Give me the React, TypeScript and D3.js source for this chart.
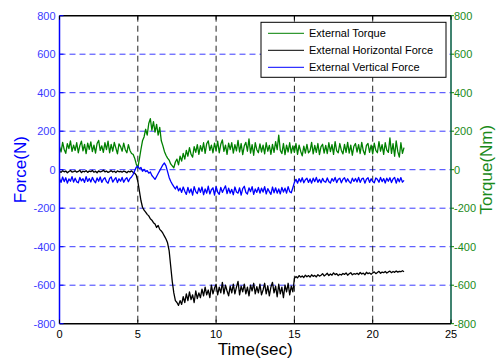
import React from 'react';
import * as d3 from 'd3';

// time step of the sampled signals (sec)
const dt = 0.1;

const torque = [
  120, 92, 142, 105, 85, 135, 110, 150, 95, 128,
  100, 140, 88, 125, 148, 98, 132, 84, 138, 106,
  145, 94, 128, 86, 136, 152, 100, 124, 90, 140,
  104, 148, 88, 132, 96, 142, 112, 82, 134, 120,
  96, 138, 104, 88, 130, 100, 84, 80, 60, 30,
  10, 55, 105, 150, 170, 210, 180, 240, 265, 205,
  250, 195, 235, 180, 220, 150, 125, 95, 75, 60,
  50, 30, 20, 10, 40, 55, 25, 70, 45, 85,
  55, 100, 70, 115, 80, 65, 120, 90, 130, 80,
  125, 95, 140, 85, 135, 150, 100, 128, 88, 138,
  100, 148, 88, 132, 155, 95, 128, 80, 138, 104,
  140, 86, 130, 98, 152, 92, 136, 78, 124, 142,
  96, 160, 86, 130, 75, 140, 104, 88, 134, 92,
  128, 82, 140, 96, 126, 80, 132, 90, 146, 104,
  180, 100, 84, 136, 78, 128, 92, 140, 86, 124,
  90, 136, 80, 128, 96, 72, 122, 86, 132, 88,
  98, 142, 82, 126, 90, 136, 78, 120, 132, 86,
  126, 84, 140, 94, 130, 80, 146, 98, 88, 136,
  100, 82, 132, 90, 142, 86, 128, 75, 122, 136,
  92, 130, 84, 142, 98, 78, 126, 136, 90, 128,
  82, 138, 100, 88, 146, 96, 130, 80, 140, 102,
  90, 165, 85, 135, 70, 150, 95, 65, 140, 85,
  115,
];

const horizontalForce = [
  -8, -14, -5, -11, -7, -16, -9, -4, -12, -10,
  -6, -13, -9, -3, -15, -8, -11, -5, -14, -7,
  -10, -4, -13, -8, -16, -6, -12, -9, -3, -11,
  -7, -14, -10, -5, -12, -8, -15, -6, -11, -9,
  -13, -7, -10, -16, -8, -12, -6, -14, -18, -28,
  -60, -110, -160, -195, -210, -220, -232, -240, -255, -262,
  -275, -282, -300, -290, -310, -318, -330, -345, -360, -380,
  -420, -500, -580, -640, -680, -690, -705, -680, -700, -660,
  -690, -645, -680, -635, -675, -650, -690, -630, -670, -640,
  -665, -620, -655, -610, -650, -625, -665, -600, -645, -615,
  -595, -650, -610, -640, -585, -645, -600, -630, -655, -605,
  -640, -595, -645, -610, -580, -650, -605, -635, -595, -645,
  -610, -655, -600, -630, -590, -645, -608, -640, -595, -650,
  -625, -590, -645, -603, -655, -610, -585, -640, -605, -660,
  -595, -645, -610, -665, -600, -635, -590, -650, -605, -635,
  -565, -555, -562, -550, -558, -552, -560, -548, -556, -550,
  -558, -546, -554, -549, -557, -545, -553, -548, -540, -552,
  -546, -538, -550, -542, -548, -536, -545, -540, -550, -543,
  -547, -539, -544, -536, -548, -541, -535, -546, -540, -543,
  -538, -545, -534, -542, -537, -546, -533, -540, -536, -543,
  -536, -531, -540, -534, -528, -538, -532, -535, -529, -537,
  -531, -527, -535, -529, -533, -526, -532, -528, -530, -525,
  -530,
];

const verticalForce = [
  -45, -66, -38, -62, -42, -70, -48, -60, -36, -64,
  -44, -63, -68, -40, -58, -47, -66, -36, -61, -46,
  -64, -40, -57, -68, -43, -60, -38, -66, -50, -42,
  -62, -70, -46, -37, -64, -52, -41, -67, -47, -60,
  -40, -65, -50, -42, -62, -46, -38, -25, -5, 12,
  18, 5, 12, -8, 2, -10, -5, -18, -12, -30,
  -40, -50, -35, -20, -5, 10, 25, 35, 20, -10,
  -40, -60, -75, -88, -100, -85, -110, -96, -118, -90,
  -112, -128, -92, -120, -100, -132, -88, -114, -124, -94,
  -118, -90, -130, -100, -122, -86, -126, -104, -94, -132,
  -88, -116, -128, -92, -118, -100, -84, -124, -96, -122,
  -102, -130, -90, -116, -122, -94, -132, -98, -86, -118,
  -126, -94, -114, -88, -128, -100, -118, -92, -122, -96,
  -116, -88, -126, -98, -114, -128, -90, -120, -94, -122,
  -100, -126, -92, -116, -96, -122, -88, -114, -120, -94,
  -66, -50, -70, -46, -64, -42, -68, -52, -44, -66,
  -48, -70, -44, -62, -40, -66, -50, -68, -45, -61,
  -65, -43, -62, -69, -46, -60, -40, -67, -50, -44,
  -68, -50, -42, -64, -47, -62, -70, -44, -61, -46,
  -64, -40, -66, -48, -44, -70, -50, -42, -66, -47,
  -61, -68, -43, -50, -65, -40, -62, -46, -69, -44,
  -60, -42, -67, -48, -40, -70, -45, -63, -41, -65,
  -55,
];

const xTicks = [0, 5, 10, 15, 20, 25];
const yTicks = [-800, -600, -400, -200, 0, 200, 400, 600, 800];

const legendItems = [
  { label: 'External Torque', color: '#008000' },
  { label: 'External Horizontal Force', color: '#000000' },
  { label: 'External Vertical Force', color: '#0000ff' },
];

const W = 496;
const H = 361;
const left = 59.5;
const right = 451;
const top = 15.7;
const bottom = 323.7;

const App = () => {
  const x = d3.scaleLinear().domain([0, 25]).range([left, right]);
  const yL = d3.scaleLinear().domain([-800, 800]).range([bottom, top]);
  const yR = d3.scaleLinear().domain([-800, 800]).range([bottom, top]);

  const lineL = d3.line<number>().x((d, i) => x(i * dt)).y(d => yL(d));
  const lineR = d3.line<number>().x((d, i) => x(i * dt)).y(d => yR(d));

  const font = 'Arial, "Liberation Sans", Helvetica, sans-serif';

  return (
    <svg width={W} height={H} style={{ position: 'absolute', left: 0, top: 0, background: '#fff' }}
      fontFamily={font}>
      <rect x={0} y={0} width={W} height={H} fill="#fff" />
      {/* grid */}
      {yTicks.slice(1, -1).map(t => (
        <line key={'gy' + t} x1={left} x2={right} y1={yL(t)} y2={yL(t)}
          stroke="#3a3aff" strokeWidth={1} strokeDasharray="6,4" />
      ))}
      {xTicks.slice(1, -1).map(t => (
        <line key={'gx' + t} x1={x(t)} x2={x(t)} y1={top} y2={bottom}
          stroke="#222" strokeWidth={1} strokeDasharray="6,4" />
      ))}

      {/* data */}
      <path d={lineR(torque) || ''} fill="none" stroke="#008000" strokeWidth={1.3} strokeLinejoin="round" />
      <path d={lineL(horizontalForce) || ''} fill="none" stroke="#000" strokeWidth={1.3} strokeLinejoin="round" />
      <path d={lineL(verticalForce) || ''} fill="none" stroke="#0000ff" strokeWidth={1.3} strokeLinejoin="round" />

      {/* box */}
      <line x1={left} x2={right} y1={top} y2={top} stroke="#000" strokeWidth={1.5} />
      <line x1={left} x2={right} y1={bottom} y2={bottom} stroke="#000" strokeWidth={1.5} />
      <line x1={left} x2={left} y1={top} y2={bottom} stroke="#0000ff" strokeWidth={1.5} />
      <line x1={right} x2={right} y1={top} y2={bottom} stroke="#005a40" strokeWidth={1.5} />

      {/* x ticks */}
      {xTicks.map(t => (
        <g key={'xt' + t}>
          <line x1={x(t)} x2={x(t)} y1={bottom} y2={bottom - 4} stroke="#000" />
          <line x1={x(t)} x2={x(t)} y1={top} y2={top + 4} stroke="#000" />
          <text x={x(t)} y={bottom + 14} fontSize={11} textAnchor="middle" fill="#000">{t}</text>
        </g>
      ))}

      {/* left y ticks */}
      {yTicks.map(t => (
        <g key={'yl' + t}>
          <line x1={left} x2={left + 4} y1={yL(t)} y2={yL(t)} stroke="#0000ff" />
          <text x={left - 4} y={yL(t) + 4} fontSize={11} textAnchor="end" fill="#3a3aff">{t}</text>
        </g>
      ))}

      {/* right y ticks */}
      {yTicks.map(t => (
        <g key={'yr' + t}>
          <line x1={right} x2={right + 3} y1={yR(t)} y2={yR(t)} stroke="#008000" />
          <text x={right + 3} y={yR(t) + 4} fontSize={11} textAnchor="start" fill="#1a8a1a">{t}</text>
        </g>
      ))}

      {/* axis labels */}
      <text x={(left + right) / 2} y={355} fontSize={17} textAnchor="middle" fill="#000">Time(sec)</text>
      <text transform={`translate(26, ${(top + bottom) / 2}) rotate(-90)`} fontSize={17}
        textAnchor="middle" fill="#0000ff">Force(N)</text>
      <text transform={`translate(492, ${(top + bottom) / 2}) rotate(-90)`} fontSize={17}
        textAnchor="middle" fill="#1a8a1a">Torque(Nm)</text>

      {/* legend */}
      <rect x={261} y={22.3} width={185} height={55} fill="#fff" stroke="#000" strokeWidth={1} />
      {legendItems.map((item, i) => (
        <g key={item.label}>
          <line x1={268} x2={304} y1={33.3 + i * 17} y2={33.3 + i * 17} stroke={item.color} />
          <text x={309} y={37.3 + i * 17} fontSize={11} fill="#000">{item.label}</text>
        </g>
      ))}
    </svg>
  );
};

export default App;
